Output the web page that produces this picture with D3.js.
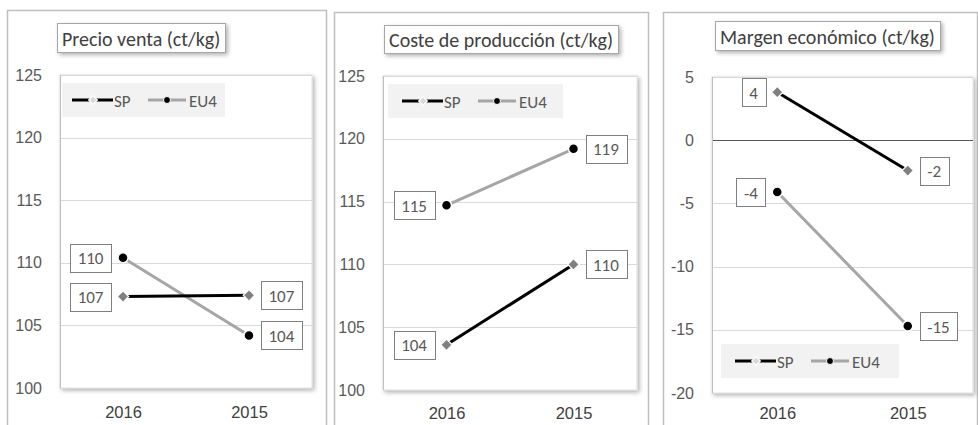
<!DOCTYPE html>
<html>
<head>
<meta charset="utf-8">
<script src="https://cdn.jsdelivr.net/npm/d3@7"></script>
<style>
  body { margin: 0; background: #fff; }
  svg { font-family: Carlito, Lato, "Open Sans", sans-serif; }
</style>
</head>
<body>
<div id="chart"></div>
<script>
// three small panels: precio, coste, margen

var categories = ["2016", "2015"];
var seriesNames = ["SP", "EU4"];

var titles = ["Precio venta (ct/kg)", "Coste de producción (ct/kg)", "Margen económico (ct/kg)"];

var precioSP = [107.3, 107.4];
var precioEU4 = [110.4, 104.2];
var costeSP = [103.6, 110.0];
var costeEU4 = [114.7, 119.2];
var margenSP = [3.8, -2.4];
var margenEU4 = [-4.1, -14.7];

var precioTicks = [100, 105, 110, 115, 120, 125];
var costeTicks = [100, 105, 110, 115, 120, 125];
var margenTicks = [-20, -15, -10, -5, 0, 5];

var svgWidth = 978;
var svgHeight = 425;

var svg = d3.select("#chart")
  .append("svg")
  .attr("width", svgWidth)
  .attr("height", svgHeight);

var defs = svg.append("defs");
var shadow = defs.append("filter")
  .attr("id", "shadow")
  .attr("x", "-10%").attr("y", "-10%")
  .attr("width", "130%").attr("height", "130%");
shadow.append("feDropShadow")
  .attr("dx", 2).attr("dy", 2)
  .attr("stdDeviation", 2)
  .attr("flood-color", "#000")
  .attr("flood-opacity", 0.3);

var panels = [
  { title: titles[0], sp: precioSP, eu: precioEU4, ticks: precioTicks, zero: false, xPad: 18,
    outer: {x: 7, y: 10, w: 319}, plot: {x: 60, y: 75, w: 252, h: 313},
    titleBox: {x: 57, y: 23, h: 29}, legend: {x: 62, y: 83, w: 163, h: 34} },
  { title: titles[1], sp: costeSP, eu: costeEU4, ticks: costeTicks, zero: false, xPad: 17,
    outer: {x: 334, y: 12, w: 314}, plot: {x: 383, y: 76, w: 254, h: 314},
    titleBox: {x: 384, y: 25, h: 28}, legend: {x: 388, y: 84, w: 175, h: 34} },
  { title: titles[2], sp: margenSP, eu: margenEU4, ticks: margenTicks, zero: true, xPad: 14,
    outer: {x: 663, y: 12, w: 314}, plot: {x: 712, y: 77, w: 261, h: 316},
    titleBox: {x: 715, y: 21, h: 29}, legend: {x: 721, y: 344, w: 178, h: 34} }
];

var spColor = "#000";
var euColor = "#a6a6a6";
var markerGray = "#808080";

var diamond = d3.symbol().type(d3.symbolDiamond2 || d3.symbolDiamond).size(60);

panels.forEach(function(p) {
  // outer chart frame (runs off the bottom of the picture)
  svg.append("rect")
    .attr("x", p.outer.x + 0.5).attr("y", p.outer.y + 0.5)
    .attr("width", p.outer.w).attr("height", svgHeight)
    .attr("fill", "#fff")
    .attr("stroke", "#bfbfbf")
    .attr("stroke-width", 1.5);

  var g = svg.append("g")
    .attr("transform", `translate(${p.plot.x}, ${p.plot.y})`);

  var xScale = d3.scalePoint()
    .domain(categories)
    .range([0, p.plot.w])
    .padding(0.5);

  var yScale = d3.scaleLinear()
    .domain(d3.extent(p.ticks))
    .range([p.plot.h, 0]);

  // plot area with shadow
  g.append("rect")
    .attr("width", p.plot.w).attr("height", p.plot.h)
    .attr("fill", "#fff")
    .attr("stroke", "#e0e0e0")
    .attr("filter", "url(#shadow)");

  // gridlines
  g.append("g")
    .selectAll("line")
    .data(p.ticks)
    .enter()
    .append("line")
    .attr("x1", 0).attr("x2", p.plot.w)
    .attr("y1", function(d) { return Math.round(yScale(d)) + 0.5; })
    .attr("y2", function(d) { return Math.round(yScale(d)) + 0.5; })
    .attr("stroke", function(d) { return (p.zero && d === 0) ? "#595959" : "#d9d9d9"; })
    .attr("stroke-width", 1);

  // left edge
  g.append("line")
    .attr("x1", 0.5).attr("x2", 0.5)
    .attr("y1", 0).attr("y2", p.plot.h)
    .attr("stroke", "#bfbfbf");

  var leftAxis = d3.axisLeft(yScale)
    .tickValues(p.ticks)
    .tickFormat(function(d) { return String(d); })
    .tickSize(0).tickPadding(18);
  var axisG = g.append("g").call(leftAxis);
  axisG.select(".domain").remove();
  axisG.selectAll("text")
    .attr("fill", "#595959")
    .attr("font-size", "16px");

  var bottomAxis = d3.axisBottom(xScale).tickSize(0).tickPadding(p.xPad);
  var xAxisG = g.append("g")
    .attr("transform", `translate(0, ${p.plot.h})`)
    .call(bottomAxis);
  xAxisG.select(".domain").remove();
  xAxisG.selectAll("text")
    .attr("fill", "#404040")
    .attr("font-size", "16.5px");

  // lines
  var line = d3.line()
    .x(function(d, i) { return xScale(categories[i]); })
    .y(function(d) { return yScale(d); });

  g.append("path").datum(p.eu)
    .attr("d", line)
    .attr("fill", "none")
    .attr("stroke", euColor)
    .attr("stroke-width", 3);

  g.append("path").datum(p.sp)
    .attr("d", line)
    .attr("fill", "none")
    .attr("stroke", spColor)
    .attr("stroke-width", 3);

  // markers
  g.append("g")
    .selectAll("path")
    .data(p.sp)
    .enter()
    .append("path")
    .attr("d", diamond)
    .attr("transform", function(d, i) { return `translate(${xScale(categories[i])}, ${yScale(d)})`; })
    .attr("fill", markerGray)
    .attr("stroke", "#fff")
    .attr("stroke-width", 2.5)
    .attr("paint-order", "stroke");

  g.append("g")
    .selectAll("circle")
    .data(p.eu)
    .enter()
    .append("circle")
    .attr("cx", function(d, i) { return xScale(categories[i]); })
    .attr("cy", function(d) { return yScale(d); })
    .attr("r", 5)
    .attr("fill", "#000")
    .attr("stroke", "#fff")
    .attr("stroke-width", 1.5);

  // data labels in boxes: left for 2016, right for 2015
  var labels = [];
  p.sp.forEach(function(v, i) { labels.push({v: v, i: i}); });
  p.eu.forEach(function(v, i) { labels.push({v: v, i: i}); });

  labels.forEach(function(d) {
    var txt = String(Math.round(d.v));
    var lg = g.append("g");
    var t = lg.append("text")
      .attr("font-size", "17px")
      .attr("fill", "#595959")
      .attr("dominant-baseline", "central")
      .attr("text-anchor", "middle")
      .text(txt);
    var tw = t.node().getComputedTextLength();
    var bw = tw + 15;
    var bh = 28;
    var cx = xScale(categories[d.i]);
    var cy = yScale(d.v);
    var bx = d.i === 0 ? cx - 12 - bw : cx + 12;
    lg.insert("rect", "text")
      .attr("x", Math.round(bx) + 0.5).attr("y", Math.round(cy - bh / 2) + 0.5)
      .attr("width", Math.round(bw)).attr("height", bh)
      .attr("fill", "#fff")
      .attr("stroke", "#7f7f7f");
    t.attr("x", bx + bw / 2).attr("y", cy + 1);
  });

  // legend
  var lx = p.legend.x - p.plot.x;
  var ly = p.legend.y - p.plot.y;
  var leg = g.append("g").attr("transform", `translate(${lx}, ${ly})`);
  leg.append("rect")
    .attr("width", p.legend.w).attr("height", p.legend.h)
    .attr("fill", "#f2f2f2");
  var my = p.legend.h / 2;
  var sx = p.legend.w > 170 ? 14 : 10;
  leg.append("line")
    .attr("x1", sx).attr("x2", sx + 41).attr("y1", my).attr("y2", my)
    .attr("stroke", spColor).attr("stroke-width", 3);
  leg.append("path")
    .attr("d", d3.symbol().type(d3.symbolDiamond2 || d3.symbolDiamond).size(30))
    .attr("transform", `translate(${sx + 21}, ${my})`)
    .attr("fill", "#d9d9d9")
    .attr("stroke", "#fff")
    .attr("stroke-width", 2.5)
    .attr("paint-order", "stroke");
  leg.append("text")
    .attr("x", sx + 42).attr("y", my + 1)
    .attr("dominant-baseline", "central")
    .attr("font-size", "17px")
    .attr("fill", "#595959")
    .text(seriesNames[0]);
  var ex = sx + 76;
  leg.append("line")
    .attr("x1", ex).attr("x2", ex + 38).attr("y1", my).attr("y2", my)
    .attr("stroke", euColor).attr("stroke-width", 3);
  leg.append("circle")
    .attr("cx", ex + 19).attr("cy", my).attr("r", 3.5)
    .attr("fill", "#000").attr("stroke", "#fff").attr("stroke-width", 1);
  leg.append("text")
    .attr("x", ex + 41).attr("y", my + 1)
    .attr("dominant-baseline", "central")
    .attr("font-size", "17px")
    .attr("fill", "#595959")
    .text(seriesNames[1]);

  // title box
  var tg = svg.append("g");
  var tt = tg.append("text")
    .attr("font-size", "20px")
    .attr("fill", "#404040")
    .attr("dominant-baseline", "central")
    .text(p.title);
  var tw = tt.node().getComputedTextLength();
  tg.insert("rect", "text")
    .attr("x", p.titleBox.x + 0.5).attr("y", p.titleBox.y + 0.5)
    .attr("width", Math.round(tw + 10)).attr("height", p.titleBox.h)
    .attr("fill", "#fff")
    .attr("stroke", "#a6a6a6")
    .attr("filter", "url(#shadow)");
  tt.attr("x", p.titleBox.x + 5).attr("y", p.titleBox.y + p.titleBox.h / 2 + 1);
});
</script>
</body>
</html>
